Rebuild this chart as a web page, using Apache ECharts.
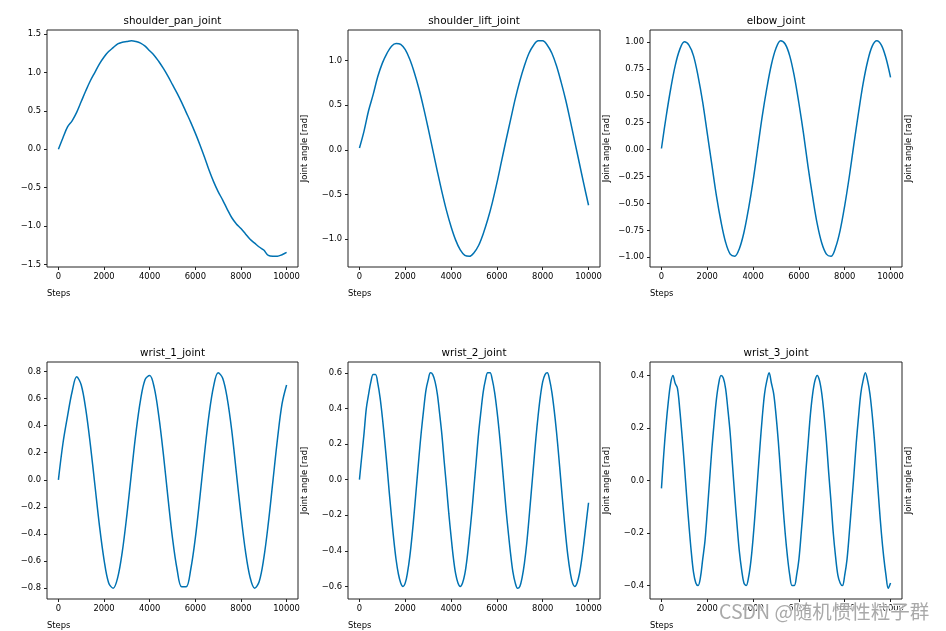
<!DOCTYPE html>
<html>
<head>
<meta charset="utf-8">
<script src="https://cdn.jsdelivr.net/npm/echarts@6/dist/echarts.min.js"></script>
<style>
html,body{margin:0;padding:0;background:#fff;}
#chart{width:946px;height:631px;}
</style>
</head>
<body>
<div id="chart"></div>
<script>
// ---- data ----
const jointNames = ["shoulder_pan_joint","shoulder_lift_joint","elbow_joint","wrist_1_joint","wrist_2_joint","wrist_3_joint"];

const steps200 = [0,200,400,600,800,1000,1200,1400,1600,1800,
  2000,2200,2400,2600,2800,3000,3200,3400,3600,3800,
  4000,4200,4400,4600,4800,5000,5200,5400,5600,5800,
  6000,6200,6400,6600,6800,7000,7200,7400,7600,7800,
  8000,8200,8400,8600,8800,9000,9200,9400,9600,9800,10000];

const steps100 = [0,100,200,300,400,500,600,700,800,900,
  1000,1100,1200,1300,1400,1500,1600,1700,1800,1900,
  2000,2100,2200,2300,2400,2500,2600,2700,2800,2900,
  3000,3100,3200,3300,3400,3500,3600,3700,3800,3900,
  4000,4100,4200,4300,4400,4500,4600,4700,4800,4900,
  5000,5100,5200,5300,5400,5500,5600,5700,5800,5900,
  6000,6100,6200,6300,6400,6500,6600,6700,6800,6900,
  7000,7100,7200,7300,7400,7500,7600,7700,7800,7900,
  8000,8100,8200,8300,8400,8500,8600,8700,8800,8900,
  9000,9100,9200,9300,9400,9500,9600,9700,9800,9900,10000];

const shoulderPan = [0.00,0.15,0.29,0.37,0.48,0.62,0.76,0.89,1.00,1.11,
  1.20,1.27,1.32,1.37,1.39,1.40,1.41,1.40,1.38,1.34,
  1.28,1.22,1.14,1.05,0.95,0.84,0.73,0.61,0.48,0.35,
  0.21,0.06,-0.10,-0.27,-0.42,-0.55,-0.66,-0.78,-0.89,-0.97,
  -1.03,-1.10,-1.17,-1.22,-1.27,-1.31,-1.38,-1.39,-1.39,-1.37,-1.34];

const shoulderLift = [0.02,0.21,0.44,0.62,0.82,0.97,1.08,1.16,1.19,1.18,
  1.12,1.01,0.86,0.68,0.47,0.24,0.00,-0.24,-0.47,-0.68,
  -0.86,-1.01,-1.12,-1.18,-1.19,-1.15,-1.07,-0.94,-0.78,-0.59,
  -0.37,-0.13,0.11,0.34,0.57,0.77,0.94,1.08,1.17,1.22,
  1.22,1.17,1.08,0.94,0.76,0.56,0.33,0.09,-0.15,-0.39,-0.62];

const elbow = [0.01,0.30,0.56,0.78,0.93,1.00,0.97,0.87,0.68,0.44,
  0.15,-0.14,-0.43,-0.67,-0.86,-0.97,-0.99,-0.92,-0.77,-0.55,
  -0.29,0.01,0.31,0.57,0.79,0.94,1.01,0.98,0.87,0.68,
  0.43,0.15,-0.16,-0.44,-0.69,-0.87,-0.97,-0.99,-0.91,-0.75,
  -0.52,-0.25,0.05,0.34,0.61,0.82,0.96,1.01,0.97,0.85,0.67];

const wrist1 = [0.00,0.27,0.47,0.65,0.76,0.70,0.52,0.26,-0.04,-0.34,
  -0.59,-0.76,-0.80,-0.72,-0.53,-0.26,0.05,0.35,0.59,0.74,
  0.77,0.68,0.47,0.19,-0.13,-0.43,-0.66,-0.79,-0.79,-0.66,
  -0.43,-0.13,0.19,0.48,0.69,0.79,0.75,0.60,0.36,0.05,
  -0.26,-0.53,-0.72,-0.80,-0.75,-0.58,-0.32,-0.01,0.30,0.56,0.70];

const wrist2 = [0.00,0.13,0.26,0.40,0.48,0.55,0.59,0.59,0.54,0.46,
  0.35,0.22,0.08,-0.07,-0.21,-0.34,-0.45,-0.53,-0.58,-0.60,
  -0.58,-0.52,-0.43,-0.31,-0.17,-0.02,0.13,0.27,0.39,0.50,
  0.56,0.60,0.59,0.55,0.48,0.37,0.25,0.10,-0.04,-0.19,
  -0.32,-0.44,-0.53,-0.58,-0.60,-0.58,-0.53,-0.44,-0.32,-0.19,
  -0.04,0.11,0.26,0.38,0.49,0.56,0.60,0.60,0.56,0.49,
  0.39,0.27,0.13,-0.02,-0.17,-0.30,-0.42,-0.52,-0.58,-0.61,
  -0.60,-0.55,-0.47,-0.36,-0.22,-0.07,0.08,0.23,0.36,0.47,
  0.55,0.59,0.60,0.56,0.49,0.39,0.27,0.13,-0.02,-0.17,
  -0.31,-0.43,-0.52,-0.58,-0.60,-0.58,-0.53,-0.45,-0.35,-0.24,-0.13];

const wrist3 = [-0.03,0.10,0.21,0.30,0.37,0.40,0.37,0.35,0.27,0.17,
  0.06,-0.06,-0.17,-0.27,-0.35,-0.39,-0.40,-0.37,-0.30,-0.23,
  -0.12,0.00,0.12,0.22,0.31,0.37,0.40,0.39,0.35,0.27,
  0.18,0.06,-0.06,-0.17,-0.27,-0.34,-0.39,-0.40,-0.37,-0.31,
  -0.22,-0.11,0.01,0.13,0.24,0.33,0.38,0.41,0.37,0.33,
  0.25,0.15,0.03,-0.09,-0.20,-0.29,-0.36,-0.40,-0.40,-0.36,
  -0.30,-0.20,-0.09,0.03,0.14,0.25,0.33,0.38,0.40,0.38,
  0.33,0.25,0.15,0.03,-0.08,-0.20,-0.29,-0.36,-0.39,-0.40,
  -0.36,-0.30,-0.20,-0.09,0.02,0.14,0.24,0.33,0.38,0.41,
  0.38,0.33,0.25,0.15,0.03,-0.09,-0.20,-0.29,-0.36,-0.41,-0.39];

const xTicks = [0,2000,4000,6000,8000,10000];
const yTicks = [
  [-1.5,-1.0,-0.5,0.0,0.5,1.0,1.5],
  [-1.0,-0.5,0.0,0.5,1.0],
  [-1.0,-0.75,-0.5,-0.25,0.0,0.25,0.5,0.75,1.0],
  [-0.8,-0.6,-0.4,-0.2,0.0,0.2,0.4,0.6,0.8],
  [-0.6,-0.4,-0.2,0.0,0.2,0.4,0.6],
  [-0.4,-0.2,0.0,0.2,0.4]
];
const yDecimals = [1,1,2,1,1,1];
const xLabel = "Steps";
const yLabel = "Joint angle [rad]";
const watermark = "CSDN @随机惯性粒子群";

// ---- layout / style ----
const seriesSteps = [steps200,steps200,steps200,steps200,steps100,steps100];
const seriesVals = [shoulderPan,shoulderLift,elbow,wrist1,wrist2,wrist3];
const colPos = [[47,298],[348,600],[650,902]];
const rowPos = [[30,267],[362,599]];
const FONT = '"DejaVu Sans", sans-serif';
const LINE = '#0072b2';
const INK = '#222';

const grids=[], xAxes=[], yAxes=[], series=[], titles=[];
const fmtMinus = s => s.replace('-', '\u2212');

for (let i=0;i<6;i++){
  const c = colPos[i%3], r = rowPos[Math.floor(i/3)];
  grids.push({left:c[0], top:r[0], width:c[1]-c[0], height:r[1]-r[0],
    show:true, borderColor:INK, borderWidth:1, backgroundColor:'transparent', containLabel:false});
  const vals = seriesVals[i];
  const dmin = Math.min(...vals), dmax = Math.max(...vals);
  const pad = (dmax-dmin)*0.05;
  const ymin = dmin-pad, ymax = dmax+pad;
  xAxes.push({gridIndex:i, type:'value', position:'bottom', min:-500, max:10500,
    axisLine:{show:false, onZero:false}, splitLine:{show:false},
    axisTick:{show:true, inside:false, length:3, customValues:xTicks, lineStyle:{color:INK, width:1}},
    axisLabel:{show:true, margin:6, customValues:xTicks, color:'#000', fontFamily:FONT, fontSize:8.4,
      formatter: v => String(v)}});
  const dec = yDecimals[i];
  yAxes.push({gridIndex:i, type:'value', position:'left', min:ymin, max:ymax,
    axisLine:{show:false, onZero:false}, splitLine:{show:false},
    axisTick:{show:true, inside:false, length:3, customValues:yTicks[i], lineStyle:{color:INK, width:1}},
    axisLabel:{show:true, margin:6, customValues:yTicks[i], color:'#000', fontFamily:FONT, fontSize:8.4,
      formatter: v => fmtMinus(Number(v).toFixed(dec))}});
  yAxes.push({gridIndex:i, type:'value', position:'right', min:ymin, max:ymax,
    name:yLabel, nameLocation:'middle', nameGap:3, nameRotate:90,
    nameTextStyle:{color:'#000', fontFamily:FONT, fontSize:8.4},
    axisLine:{show:false, onZero:false}, axisTick:{show:false}, axisLabel:{show:false}, splitLine:{show:false}});
  const st = seriesSteps[i];
  series.push({type:'line', xAxisIndex:i, yAxisIndex:2*i, showSymbol:false, smooth:0.35,
    lineStyle:{color:LINE, width:1.5}, data: st.map((s,k)=>[s, vals[k]])});
  titles.push({text:jointNames[i], left:(c[0]+c[1])/2, top:r[0]-14, textAlign:'center', padding:0,
    textStyle:{color:'#000', fontFamily:FONT, fontSize:10.4, fontWeight:'normal'}});
  titles.push({text:xLabel, left:c[0], top:r[1]+23, padding:0,
    textStyle:{color:'#000', fontFamily:FONT, fontSize:8.4, fontWeight:'normal'}});
}

const chart = echarts.init(document.getElementById('chart'), null, {renderer:'canvas'});
chart.setOption({
  animation:false,
  backgroundColor:'#fff',
  title:titles,
  grid:grids, xAxis:xAxes, yAxis:yAxes, series:series,
  graphic:[{type:'text', left:718, top:601, z:100,
    style:{text:watermark, font:'19.5px "Noto Sans CJK SC", sans-serif',
      fill:'rgba(140,140,140,0.75)', stroke:'rgba(255,255,255,0.8)', lineWidth:2}}]
});
</script>
</body>
</html>
